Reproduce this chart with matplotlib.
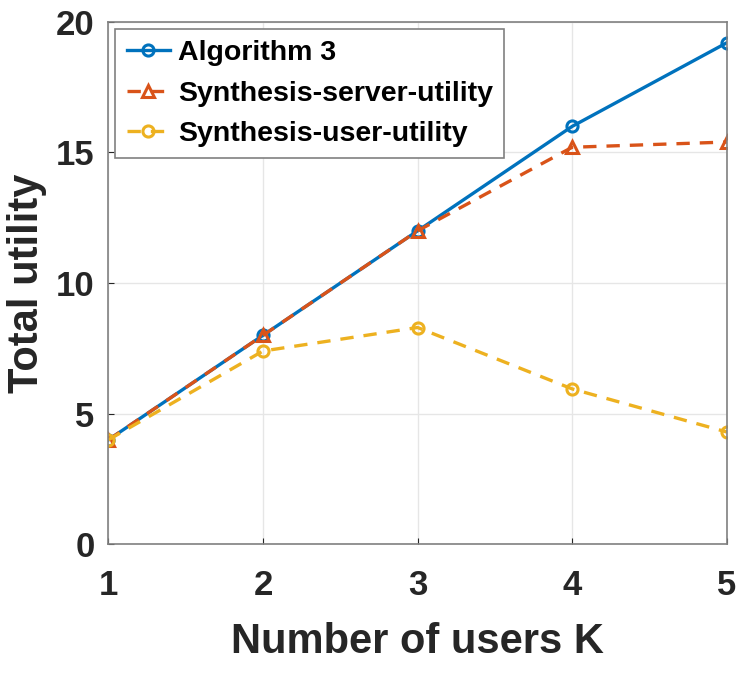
import matplotlib
matplotlib.use("Agg")
import matplotlib.pyplot as plt

# data
users_k = [1, 2, 3, 4, 5]
algorithm3 = [4.0, 8.0, 12.0, 16.0, 19.2]
server_utility = [4.0, 8.0, 12.0, 15.2, 15.4]
user_utility = [4.0, 7.4, 8.3, 5.95, 4.3]

plt.rcParams['font.family'] = ['Liberation Sans', 'DejaVu Sans']
plt.rcParams['font.weight'] = 'bold'

fig = plt.figure(figsize=(7.47, 6.83), dpi=100)
ax = fig.add_axes([0.145, 0.203, 0.828, 0.765])

ax.plot(users_k, algorithm3, '-o', color='#0072BD', lw=2.4, ms=8,
        mfc='none', mew=2.2, label='Algorithm 3')
ax.plot(users_k, server_utility, '--^', color='#D95319', lw=2.4, ms=9,
        mfc='none', mew=2.2, label='Synthesis-server-utility', dashes=(4, 3))
ax.plot(users_k, user_utility, '--o', color='#EDB120', lw=2.4, ms=8,
        mfc='none', mew=2.2, label='Synthesis-user-utility', dashes=(4, 3))

ax.set_xlim(1, 5)
ax.set_ylim(0, 20)
ax.set_xticks(users_k)
ax.set_yticks([0, 5, 10, 15, 20])
ax.grid(True, color='#e6e6e6', lw=1)
ax.tick_params(direction='in', length=4, labelsize=25, colors='#262626')
ax.tick_params(axis='x', pad=18)
ax.tick_params(axis='y', pad=10)
for lab in ax.get_xticklabels() + ax.get_yticklabels():
    lab.set_fontweight('bold')
for s in ax.spines.values():
    s.set_color('#808080')
    s.set_linewidth(1.2)

ax.set_xlabel('Number of users K', fontsize=30, fontweight='bold', color='#262626', labelpad=14)
ax.set_ylabel('Total utility', fontsize=30, fontweight='bold', color='#262626', labelpad=6)

leg = ax.legend(loc='upper left', fontsize=20.5, handlelength=1.5, handletextpad=0.3,
                borderaxespad=0.25, labelspacing=0.5, fancybox=False, framealpha=1)
leg.get_frame().set_edgecolor('#808080')
leg.get_frame().set_linewidth(1.2)

fig.savefig('out.png', dpi=100)
